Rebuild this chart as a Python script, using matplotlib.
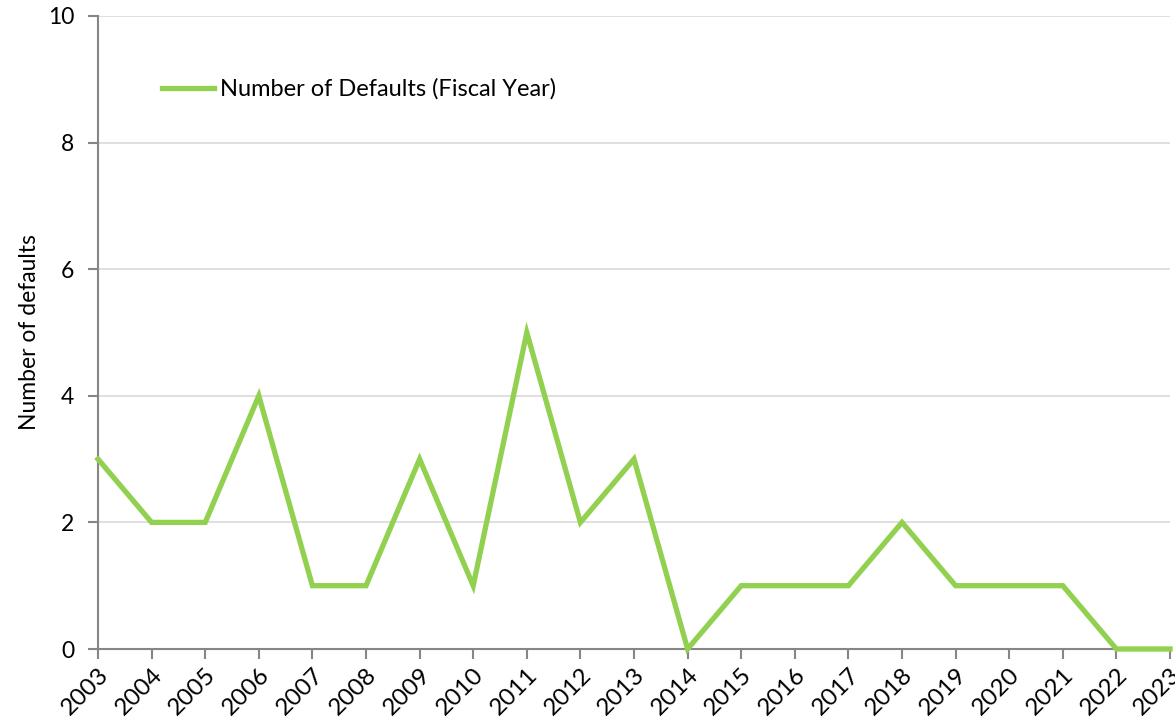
import matplotlib
matplotlib.use('Agg')
import matplotlib.pyplot as plt

years = list(range(2003, 2024))
defaults = [3, 2, 2, 4, 1, 1, 3, 1, 5, 2, 3, 0, 1, 1, 1, 2, 1, 1, 1, 0, 0]
yticks = [0, 2, 4, 6, 8, 10]

plt.rcParams['font.family'] = ['Lato', 'DejaVu Sans']

fig = plt.figure(figsize=(11.75, 7.28), dpi=100)
ax = fig.add_axes([98 / 1175, 1 - 649 / 728, (1170 - 98) / 1175, (649 - 16) / 728])

ax.plot(years, defaults, color='#92d050', lw=3.8, solid_joinstyle='miter',
        label='Number of Defaults (Fiscal Year)', zorder=3, clip_on=False)

ax.set_xlim(2003, 2023)
ax.set_ylim(0, 10)
ax.set_yticks(yticks)
ax.set_xticks(years)
ax.set_xticklabels([str(y) for y in years], rotation=45, ha='right',
                   rotation_mode='anchor', fontsize=17.5)
ax.tick_params(axis='y', labelsize=16.5, length=7, color='#868686', width=1.5, pad=10)
ax.tick_params(axis='x', length=7, color='#868686', width=1.5, pad=4)
ax.grid(axis='y', color='#d9d9d9', lw=1.2)
ax.set_axisbelow(True)

for side in ['top', 'right']:
    ax.spines[side].set_visible(False)
for side in ['left', 'bottom']:
    ax.spines[side].set_color('#868686')
    ax.spines[side].set_linewidth(1.5)

ax.set_ylabel('Number of defaults', fontsize=16.5, labelpad=6)

ax.legend(loc='upper left', bbox_to_anchor=(0.04, 0.935), frameon=False,
          fontsize=17, handlelength=2.2, handletextpad=0.25)

fig.savefig('out.png', dpi=100)
